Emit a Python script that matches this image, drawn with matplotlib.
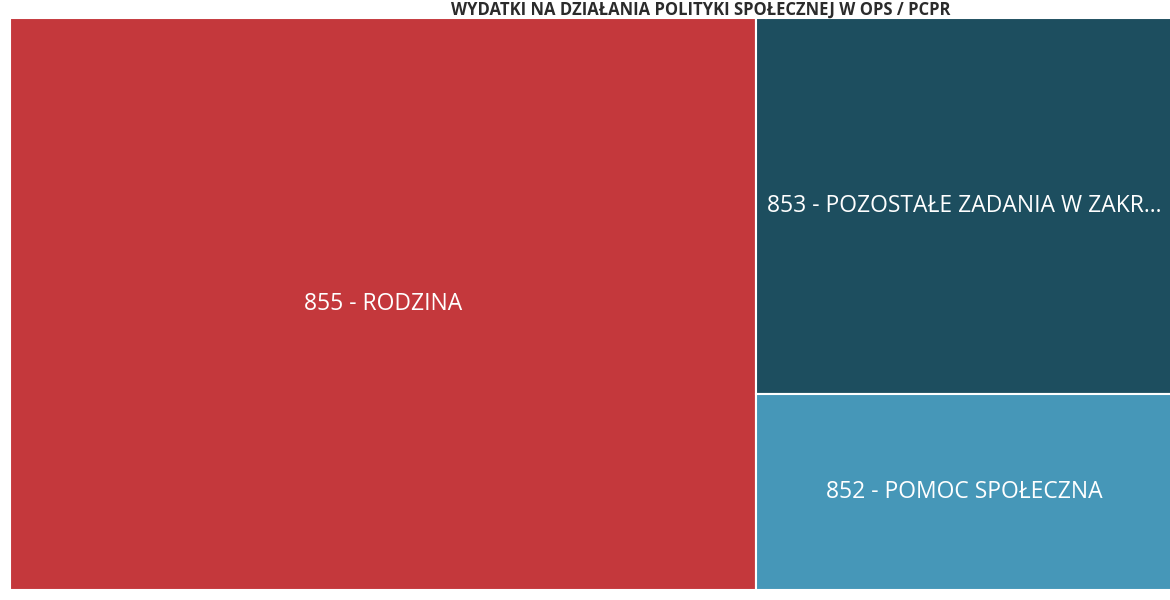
import matplotlib
matplotlib.use("Agg")
import matplotlib.pyplot as plt
from matplotlib.patches import Rectangle

# Data
labels = ["855 - RODZINA",
          "853 - POZOSTAŁE ZADANIA W ZAKRESIE POLITYKI SPOŁECZNEJ",
          "852 - POMOC SPOŁECZNA"]
values = [425000, 156000, 81300]
colors = ["#C4383C", "#1D4E5F", "#4697B8"]
title = "WYDATKI NA DZIAŁANIA POLITYKI SPOŁECZNEJ W OPS / PCPR"

W, H = 1162.0, 572.0

fig = plt.figure(figsize=(11.7, 6.0), dpi=100)
fig.patch.set_facecolor("white")
ax = fig.add_axes([10 / 1170, 1 - 590 / 600, W / 1170, H / 600])
ax.set_xlim(0, W)
ax.set_ylim(H, 0)
ax.axis("off")

total = sum(values)
w0 = W * values[0] / total
rest = values[1] + values[2]
h1 = H * values[1] / rest

rects = [
    (0, 0, w0, H),
    (w0, 0, W - w0, h1),
    (w0, h1, W - w0, H - h1),
]

FS = 16.5


def fit_label(text, maxw, fs):
    t = ax.text(0, 0, text, fontsize=fs, family=["Open Sans", "DejaVu Sans"])
    r = fig.canvas.get_renderer()
    w = t.get_window_extent(renderer=r).width
    s = text
    while w > maxw and len(s) > 4:
        s = s[:-1]
        t.set_text(s.rstrip() + "...")
        w = t.get_window_extent(renderer=r).width
    out = t.get_text()
    t.remove()
    return out


for (x, y, w, h), lab, c in zip(rects, labels, colors):
    ax.add_patch(Rectangle((x, y), w, h, facecolor=c, edgecolor="white", linewidth=1.5))
    txt = fit_label(lab, w - 10, FS)
    ax.text(x + w / 2, y + h / 2, txt, color="white", fontsize=FS,
            family=["Open Sans", "DejaVu Sans"], ha="center", va="center")

fig.text(950 / 1170, 1 - 0.5 / 600, title, ha="right", va="top", fontsize=12,
         fontweight="bold", color="#2b2b2b", family=["Open Sans", "DejaVu Sans"])

fig.savefig("out.png", dpi=100, facecolor="white")
